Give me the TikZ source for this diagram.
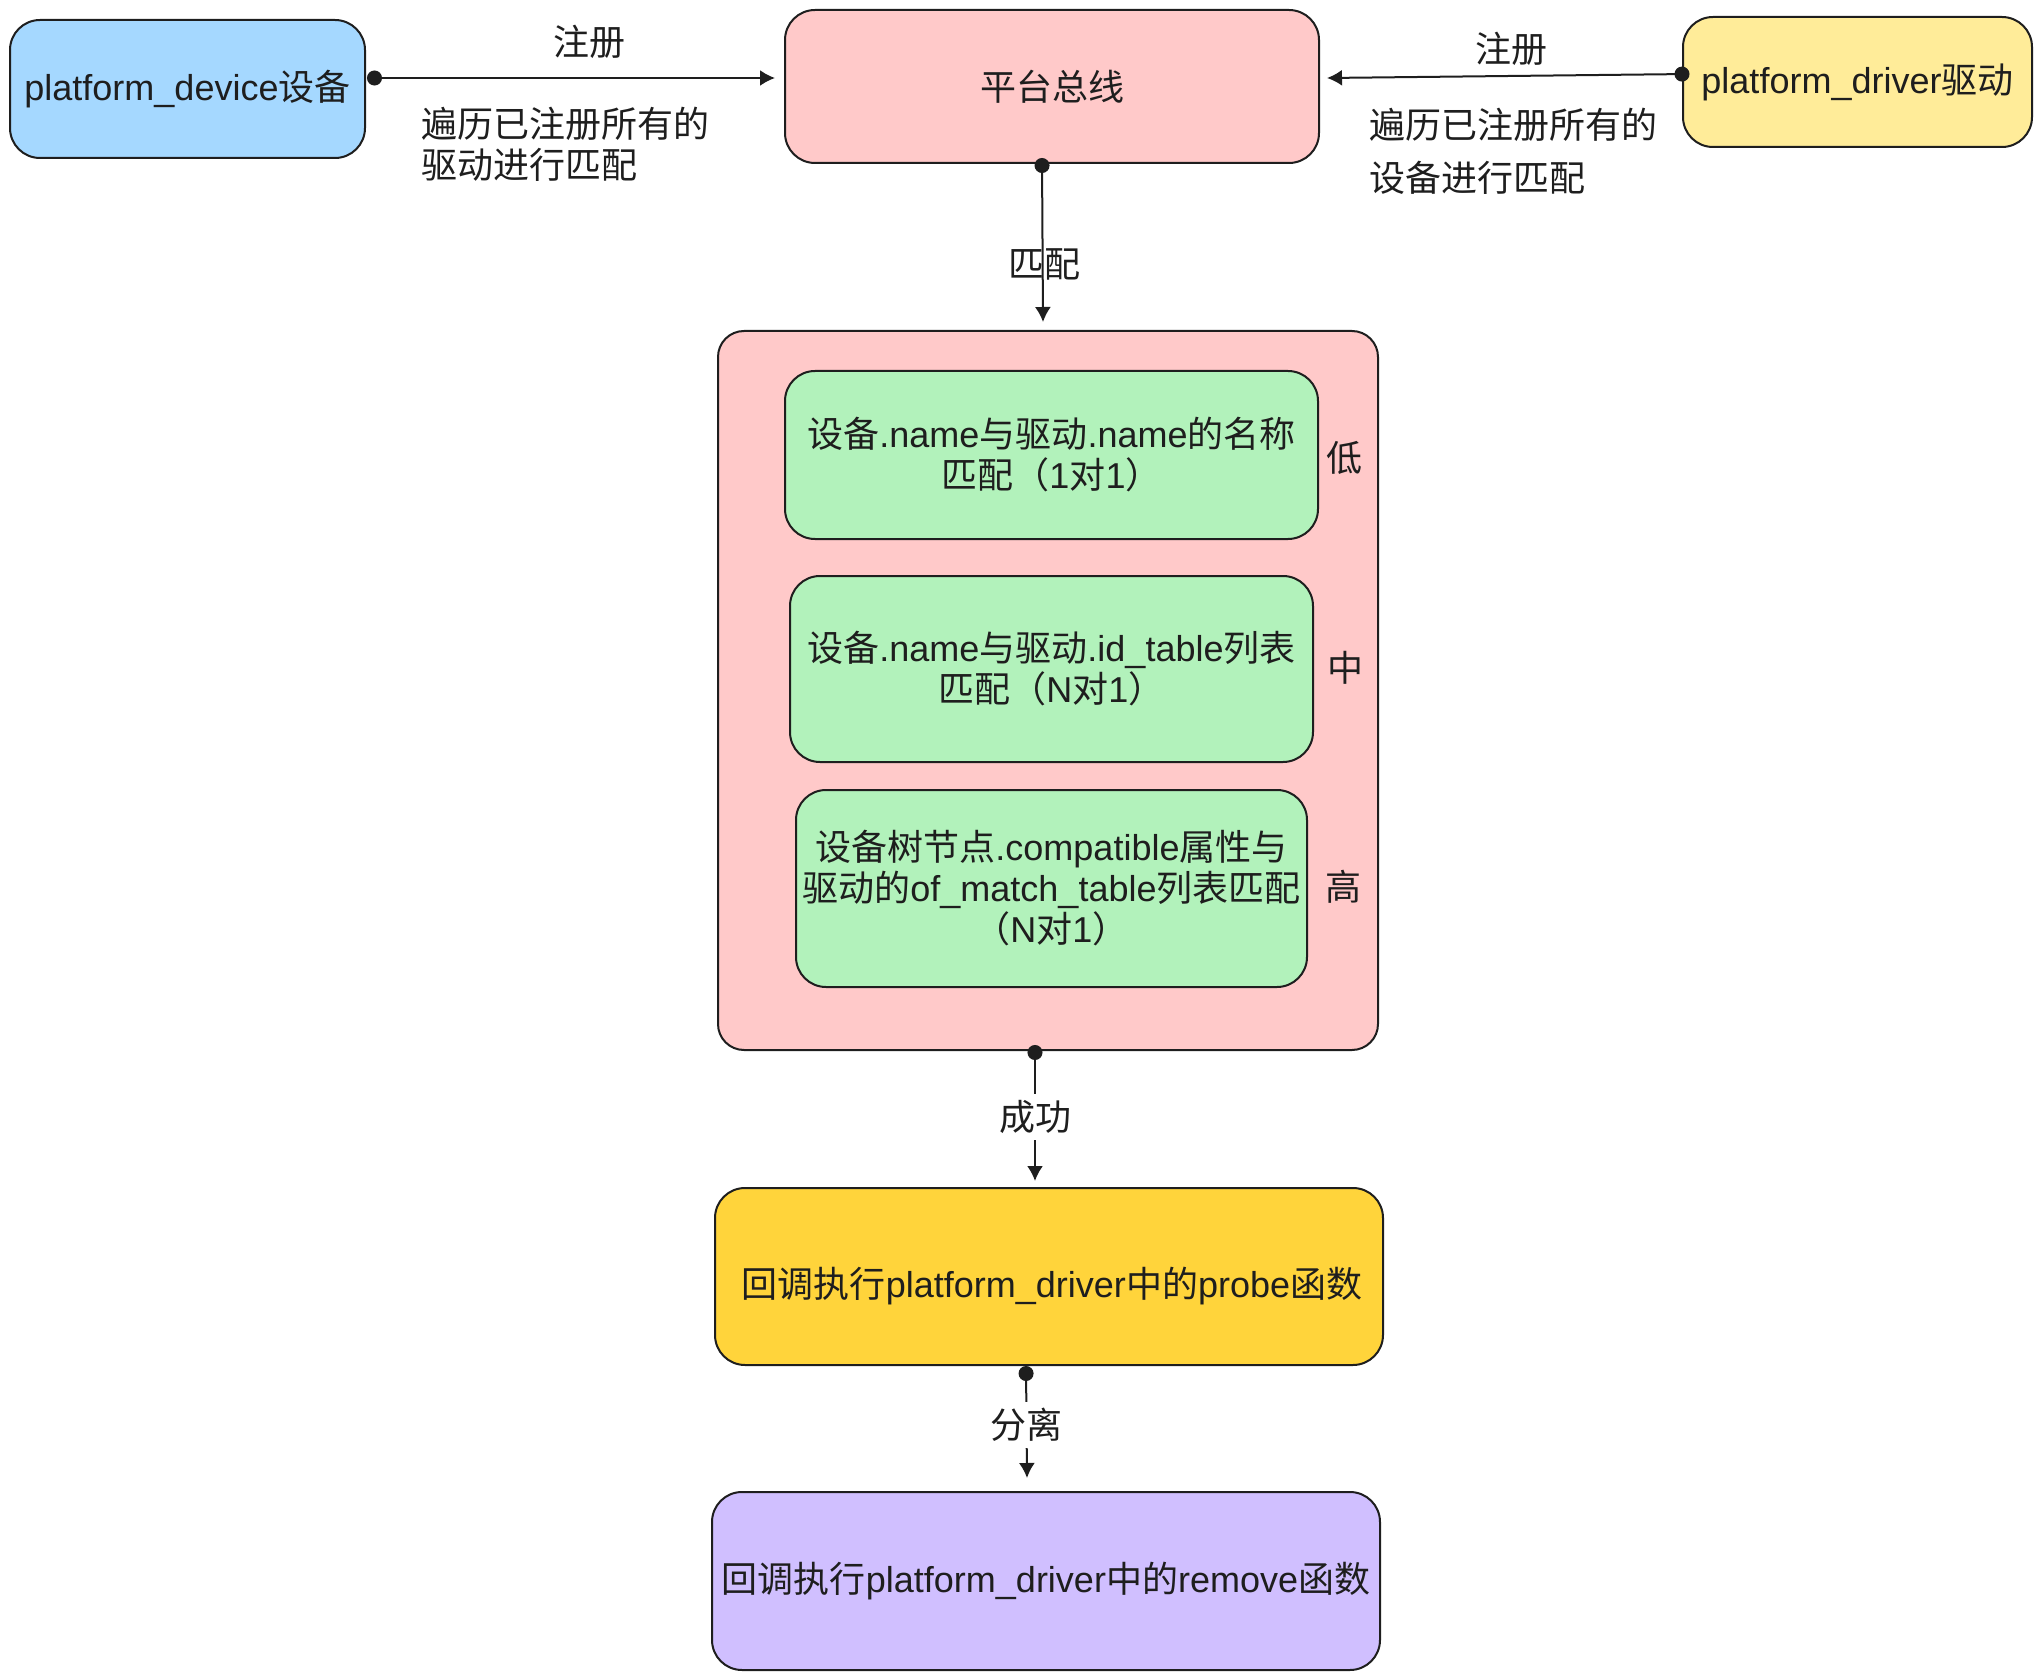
\documentclass[tikz,border=0pt]{standalone}
\usepackage{fontspec}
\setmainfont{Liberation Sans}
\newfontfamily\cjk{Noto Sans CJK SC}
\usetikzlibrary{arrows.meta,calc}
\definecolor{ink}{HTML}{1E1E1E}
\definecolor{cblue}{HTML}{A5D8FF}
\definecolor{cpink}{HTML}{FFC9C9}
\definecolor{cyell}{HTML}{FFEC99}
\definecolor{cgreen}{HTML}{B2F2BB}
\definecolor{cgold}{HTML}{FFD43B}
\definecolor{cpurple}{HTML}{D0BFFF}
\tikzset{
  box/.style={draw=ink, line width=1pt, rounded corners=15pt, align=center, inner sep=2pt, text=ink,
    font=\fontsize{18pt}{20.5pt}\selectfont},
  lbl/.style={text=ink, inner sep=1pt, font=\fontsize{18pt}{20.5pt}\selectfont},
  conn/.style={draw=ink, line width=1pt, {Circle[length=7.5pt]}-{Latex[length=7.5pt,width=8pt]}}
}
\begin{document}
\begin{tikzpicture}[x=0.5pt,y=-0.5pt]
\useasboundingbox (0,0) rectangle (2042,1680);
% top row
\node[box, fill=cblue, minimum width=177.5pt, minimum height=69pt] (dev) at (187.5,89) {platform\_device{\cjk 设备}};
\node[box, fill=cpink, minimum width=267pt, minimum height=76.5pt] (bus) at (1052,86.5) {{\cjk 平台总线}};
\node[box, fill=cyell, minimum width=174.5pt, minimum height=65pt] (drv) at (1857.5,82) {platform\_driver{\cjk 驱动}};
% container
\node[box, fill=cpink, rounded corners=13pt, minimum width=330pt, minimum height=359.5pt] (outer) at (1048,690.5) {};
\node[box, fill=cgreen, minimum width=266.5pt, minimum height=84pt] (g1) at (1051.5,455)
  {{\cjk 设备}.name{\cjk 与驱动}.name{\cjk 的名称}\\{\cjk 匹配（}1{\cjk 对}1{\cjk ）}};
\node[box, fill=cgreen, minimum width=261.5pt, minimum height=93pt] (g2) at (1051.5,669)
  {{\cjk 设备}.name{\cjk 与驱动}.id\_table{\cjk 列表}\\{\cjk 匹配（}N{\cjk 对}1{\cjk ）}};
\node[box, fill=cgreen, inner sep=1pt, minimum width=255.5pt, minimum height=98.5pt] (g3) at (1051.5,888.5)
  {{\cjk 设备树节点}.compatible{\cjk 属性与}\\{\cjk 驱动的}of\_match\_table{\cjk 列表匹配}\\{\cjk （}N{\cjk 对}1{\cjk ）}};
\node[lbl] (lo) at (1344,458) {\cjk 低};
\node[lbl] (mid) at (1345,668) {\cjk 中};
\node[lbl] (hi) at (1343,887) {\cjk 高};
% bottom boxes
\node[box, fill=cgold, minimum width=334pt, minimum height=88.5pt] (probe) at (1049,1276.5) {};
\node[lbl] (probetxt) at (1052,1286) {{\cjk 回调执行}platform\_driver{\cjk 中的}probe{\cjk 函数}};
\node[box, fill=cpurple, minimum width=334pt, minimum height=89pt] (remove) at (1046,1581)
  {{\cjk 回调执行}platform\_driver{\cjk 中的}remove{\cjk 函数}};
% connectors
\draw[conn] ([shift={(1,-11)}]dev.east) -- ([shift={(-9,-8.5)}]bus.west);
\draw[conn] ([shift={(7.5,-8)}]drv.west) -- ([shift={(7,-8.5)}]bus.east);
\draw[conn] ([shift={(-10,-6)}]bus.south) -- ([shift={(-5,-8)}]outer.north);
\draw[conn] ([shift={(-13,-6)}]outer.south) -- ([shift={(-14,-6)}]probe.north);
\draw[conn] ([shift={(-23,0)}]probe.south) -- ([shift={(-19,-13)}]remove.north);
% labels
\node[lbl] (reg1) at (589,42) {\cjk 注册};
\node[lbl, anchor=west, align=left] (trav1) at (419,144.5) {\cjk 遍历已注册所有的\\\cjk 驱动进行匹配};
\node[lbl] (reg2) at (1511,49) {\cjk 注册};
\node[lbl, anchor=west, align=left, font=\fontsize{18pt}{26.5pt}\selectfont] (trav2) at (1367,151.5) {\cjk 遍历已注册所有的\\\cjk 设备进行匹配};
\node[lbl] (match) at (1044,264) {\cjk 匹配};
\node[lbl, fill=white, inner sep=3pt] (succ) at (1035,1117) {\cjk 成功};
\node[lbl, fill=white, inner sep=3pt] (sep) at (1026,1425) {\cjk 分离};
\end{tikzpicture}
\end{document}
